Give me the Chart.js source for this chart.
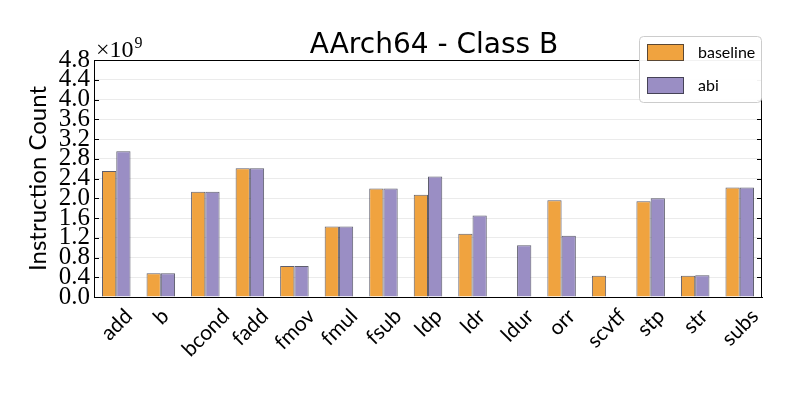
<!DOCTYPE html>
<html><head><meta charset="utf-8">
<script src="https://cdn.jsdelivr.net/npm/chart.js@4.4.0/dist/chart.umd.min.js"></script>
<style>html,body{margin:0;padding:0;background:#fff}#wrap{width:793px;height:397px;position:relative}</style>
</head><body><div id="wrap"><canvas id="c"></canvas></div>
<script>
const categories = ['add','b','bcond','fadd','fmov','fmul','fsub','ldp','ldr','ldur','orr','scvtf','stp','str','subs'];
const baselineValues = [2.55,0.48,2.13,2.61,0.63,1.43,2.20,2.07,1.28,0,1.96,0.43,1.94,0.43,2.22];
const abiValues = [2.95,0.48,2.13,2.61,0.63,1.43,2.20,2.44,1.65,1.05,1.24,0,2.00,0.44,2.22];
const yTickValues = [0,0.4,0.8,1.2,1.6,2.0,2.4,2.8,3.2,3.6,4.0,4.4,4.8];
const seriesNames = ['baseline','abi'];
const seriesColors = ['#f0a33f','#9a8ec4'];
const chartTitle = 'AArch64 - Class B';
const yAxisTitle = 'Instruction Count';
const yExponent = '9';

const decor = {
  id: 'decor',
  afterDraw(chart) {
    const {ctx, chartArea: a, scales: {x, y}} = chart;
    ctx.save();
    ctx.strokeStyle = '#000'; ctx.lineWidth = 1;
    ctx.beginPath();
    ctx.moveTo(a.left, a.top + 0.5); ctx.lineTo(a.right, a.top + 0.5);
    ctx.moveTo(a.right - 0.5, a.top); ctx.lineTo(a.right - 0.5, a.bottom);
    yTickValues.forEach(v => {
      const py = Math.round(y.getPixelForValue(v)) + 0.5;
      ctx.moveTo(a.left, py); ctx.lineTo(a.left + 5, py);
      ctx.moveTo(a.right, py); ctx.lineTo(a.right - 5, py);
    });
    ctx.stroke();

    const fs = 21;
    ctx.font = fs + 'px Lato';
    ctx.fillStyle = '#000';
    ctx.textAlign = 'center'; ctx.textBaseline = 'middle';
    categories.forEach((lab, i) => {
      const px = x.getPixelForValue(i);
      const w = ctx.measureText(lab).width;
      const cy = a.bottom + 9 + (w + 0.72 * fs) / (2 * Math.SQRT2);
      ctx.save();
      ctx.translate(px - 1, cy);
      ctx.rotate(-Math.PI / 4);
      ctx.fillText(lab, 0, 2);
      ctx.restore();
    });

    ctx.font = '28px "DejaVu Sans"';
    ctx.textAlign = 'center'; ctx.textBaseline = 'alphabetic';
    ctx.fillText(chartTitle, 434, 53);

    ctx.textAlign = 'left';
    ctx.font = '24px "Liberation Serif"';
    ctx.fillText('\u00d710', a.left + 2, a.top - 3);
    const w10 = ctx.measureText('\u00d710').width;
    ctx.font = '16px "Liberation Serif"';
    ctx.fillText(yExponent, a.left + 3 + w10, a.top - 12);

    const lx = 639.5, ly = 36.5, lw = 122, lh = 66;
    ctx.beginPath();
    ctx.roundRect(lx, ly, lw, lh, 4);
    ctx.fillStyle = 'rgba(255,255,255,0.95)';
    ctx.fill();
    ctx.strokeStyle = '#cccccc';
    ctx.stroke();
    ctx.font = '16px Lato';
    ctx.textBaseline = 'middle';
    chart.data.datasets.forEach((ds, i) => {
      const sy = 44 + i * 33;
      ctx.fillStyle = ds.backgroundColor;
      ctx.fillRect(647, sy, 37, 17);
      ctx.strokeStyle = 'rgba(40,40,50,0.75)';
      ctx.strokeRect(647.5, sy + 0.5, 36, 16);
      ctx.fillStyle = '#000';
      ctx.fillText(ds.label, 698, sy + 8.5);
    });
    ctx.restore();
  }
};

new Chart(document.getElementById('c'), {
  type: 'bar',
  data: {
    labels: categories,
    datasets: [
      {label: seriesNames[0], data: baselineValues, backgroundColor: seriesColors[0]},
      {label: seriesNames[1], data: abiValues, backgroundColor: seriesColors[1]}
    ]
  },
  options: {
    responsive: true,
    maintainAspectRatio: false,
    devicePixelRatio: 1,
    animation: false,
    layout: {padding: {top: 60, right: 31, left: 0, bottom: 0}},
    datasets: {bar: {categoryPercentage: 0.64, barPercentage: 1.0, borderWidth: 1, borderColor: 'rgba(40,40,60,0.75)', borderSkipped: 'start'}},
    plugins: {legend: {display: false}, title: {display: false}, tooltip: {enabled: false}},
    scales: {
      x: {
        offset: true,
        grid: {display: false, drawTicks: false},
        border: {display: true, color: '#000', width: 1},
        ticks: {display: false},
        afterFit: s => { s.height = 100; }
      },
      y: {
        min: 0, max: 4.8,
        afterBuildTicks: s => { s.ticks = yTickValues.map(v => ({value: v})); },
        ticks: {
          autoSkip: false, padding: 4,
          font: {family: '"Liberation Serif"', size: 25},
          color: '#000',
          callback: v => v.toFixed(1)
        },
        grid: {drawTicks: false, color: 'rgba(0,0,0,0.08)', lineWidth: 1},
        border: {display: true, color: '#000', width: 1, dash: []},
        title: {display: true, text: yAxisTitle, color: '#000', font: {family: 'Lato', size: 24}, padding: {top: 24, bottom: 0}},
        afterFit: s => { s.width = 94; }
      }
    }
  },
  plugins: [decor]
});
</script>
</body></html>
